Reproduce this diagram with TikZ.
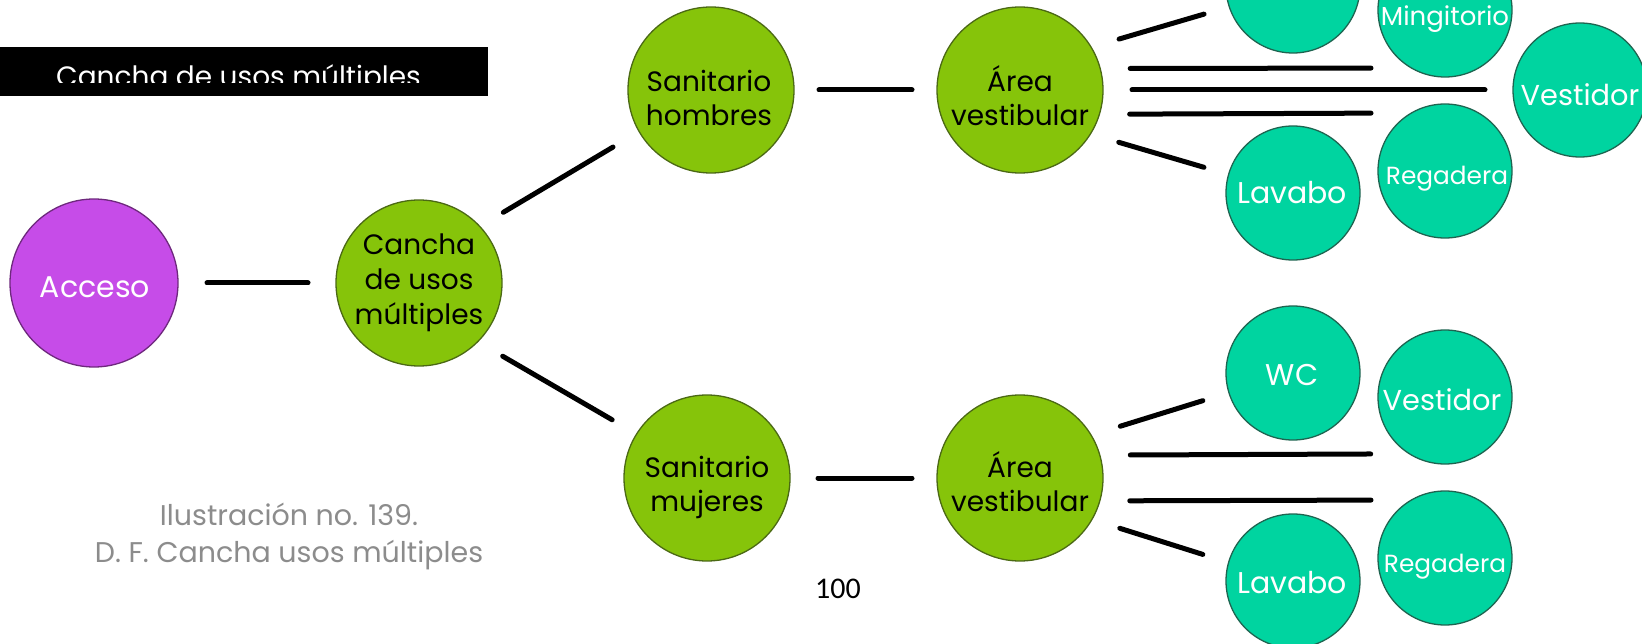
\documentclass[tikz,border=0pt]{standalone}
\usepackage{fontspec}
\setmainfont{Poppins}
\newfontfamily\numfont{Carlito}
\usetikzlibrary{calc}
\definecolor{purfill}{RGB}{198,76,232}
\definecolor{purline}{RGB}{110,40,125}
\definecolor{grfill}{RGB}{134,196,10}
\definecolor{grline}{RGB}{75,105,20}
\definecolor{tlfill}{RGB}{0,212,160}
\definecolor{tlline}{RGB}{30,100,80}
\definecolor{capgray}{RGB}{140,140,140}
\begin{document}
\begin{tikzpicture}[x=1pt,y=-1pt,
  purnode/.style={circle, fill=purfill, draw=purline, line width=1.3pt, minimum size=168pt, inner sep=0pt, outer sep=0pt},
  grnode/.style={circle, fill=grfill, draw=grline, line width=1.3pt, minimum size=166pt, inner sep=0pt, outer sep=0pt},
  tlnode/.style={circle, fill=tlfill, draw=tlline, line width=1.3pt, minimum size=134pt, inner sep=0pt, outer sep=0pt},
  gtxt/.style={anchor=base, inner sep=0pt, text=black, font=\fontsize{28}{30}\selectfont},
  wtxt/.style={anchor=base, inner sep=0pt, text=white},
  captxt/.style={anchor=base, inner sep=0pt, text=capgray, font=\fontsize{28.5}{30}\selectfont},
  conn/.style={line width=5pt, line cap=round, draw=black}
]
\clip (0,0) rectangle (1642,644);
\fill[white] (0,0) rectangle (1642,644);

% banner
\fill[black] (0,47) rectangle (488,96);
\begin{scope}
  \clip (0,47) rectangle (488,83);
  \node[wtxt, anchor=base west, font=\fontsize{28}{30}\selectfont] (bannertxt) at (56,87) {Cancha de usos múltiples};
\end{scope}

% main nodes
\node[purnode] (acc) at (94,283) {};
\node[wtxt, font=\fontsize{30}{32}\selectfont] (acct) at (95,298) {Acceso};

\node[grnode] (can) at (419,283) {};
\node[gtxt] (cant1) at (419,255) {Cancha};
\node[gtxt] (cant2) at (419,290) {de usos};
\node[gtxt] (cant3) at (419,325) {múltiples};

\node[grnode] (sh) at (711,90) {};
\node[gtxt] (sht1) at (709,92) {Sanitario};
\node[gtxt] (sht2) at (709,126) {hombres};

\node[grnode] (sm) at (707,478) {};
\node[gtxt] (smt1) at (707,477) {Sanitario};
\node[gtxt] (smt2) at (707,511) {mujeres};

\node[grnode] (avt) at (1020,90) {};
\node[gtxt] (avtt1) at (1020,92) {Área};
\node[gtxt] (avtt2) at (1020,126) {vestibular};

\node[grnode] (avb) at (1020,478) {};
\node[gtxt] (avbt1) at (1020,477) {Área};
\node[gtxt] (avbt2) at (1020,511) {vestibular};

% teal, top group
\node[tlnode] (wct) at (1293,-14) {};
\node[tlnode] (lavt) at (1293,193) {};
\node[wtxt, font=\fontsize{30}{32}\selectfont] (lavtt) at (1292,204) {Lavabo};
\node[tlnode] (mint) at (1445,10) {};
\node[wtxt, font=\fontsize{26}{28}\selectfont] (mintt) at (1445,26) {Mingitorio};
\node[tlnode] (regt) at (1445,171) {};
\node[wtxt, font=\fontsize{24.8}{26}\selectfont] (regtt) at (1447,185) {Regadera};
\node[tlnode] (vest) at (1580,90) {};
\node[wtxt, font=\fontsize{28.8}{30}\selectfont] (vestt) at (1580,106) {Vestidor};

% teal, bottom group
\node[tlnode] (wcb) at (1293,373) {};
\node[wtxt, font=\fontsize{30}{32}\selectfont] (wcbt) at (1292,385) {WC};
\node[tlnode] (vesb) at (1445,397) {};
\node[wtxt, font=\fontsize{28.8}{30}\selectfont] (vesbt) at (1442,410) {Vestidor};
\node[tlnode] (lavb) at (1293,581) {};
\node[wtxt, font=\fontsize{30}{32}\selectfont] (lavbt) at (1292,593) {Lavabo};
\node[tlnode] (regb) at (1445,558) {};
\node[wtxt, font=\fontsize{24.8}{26}\selectfont] (regbt) at (1445,572) {Regadera};

% connectors
\draw[conn, shorten <=29pt, shorten >=28pt] (acc) -- (can);
\draw[conn, shorten <=27.5pt, shorten >=30.4pt] (can.43) -- (sh.210);
\draw[conn, shorten <=28.9pt, shorten >=28.3pt] (can.315) -- (sm.148);
\draw[conn, shorten <=25pt, shorten >=25pt] (sh) -- (avt);
\draw[conn, shorten <=28pt, shorten >=25pt] (sm) -- (avb);

\draw[conn, shorten <=29.1pt, shorten >=26.3pt] (avt.31) -- (wct.198);
\draw[conn, shorten <=30pt, shorten >=40.5pt] (avt.15.4) -- (mint.240);
\draw[conn, shorten <=29pt, shorten >=28pt] (avt) -- (vest);
\draw[conn, shorten <=30.3pt, shorten >=40.5pt] (avt.343.9) -- (regt.120);
\draw[conn, shorten <=29.6pt, shorten >=25.7pt] (avt.328) -- (lavt.164);

\draw[conn, shorten <=30.5pt, shorten >=27.3pt] (avb.31.4) -- (wcb.197.5);
\draw[conn, shorten <=30.5pt, shorten >=38.8pt] (avb.16.8) -- (vesb.238.3);
\draw[conn, shorten <=30pt, shorten >=40.5pt] (avb.344.6) -- (regb.120);
\draw[conn, shorten <=29.3pt, shorten >=27pt] (avb.330) -- (lavb.164);

% caption and page number
\node[captxt] (cap1) at (289,525) {Ilustración no. 139.};
\node[captxt] (cap2) at (289,562) {D. F. Cancha usos múltiples};
\node[anchor=base, inner sep=0pt, text=black, font=\numfont\fontsize{30}{32}\selectfont] (pnum) at (838,598) {100};
\end{tikzpicture}
\end{document}
